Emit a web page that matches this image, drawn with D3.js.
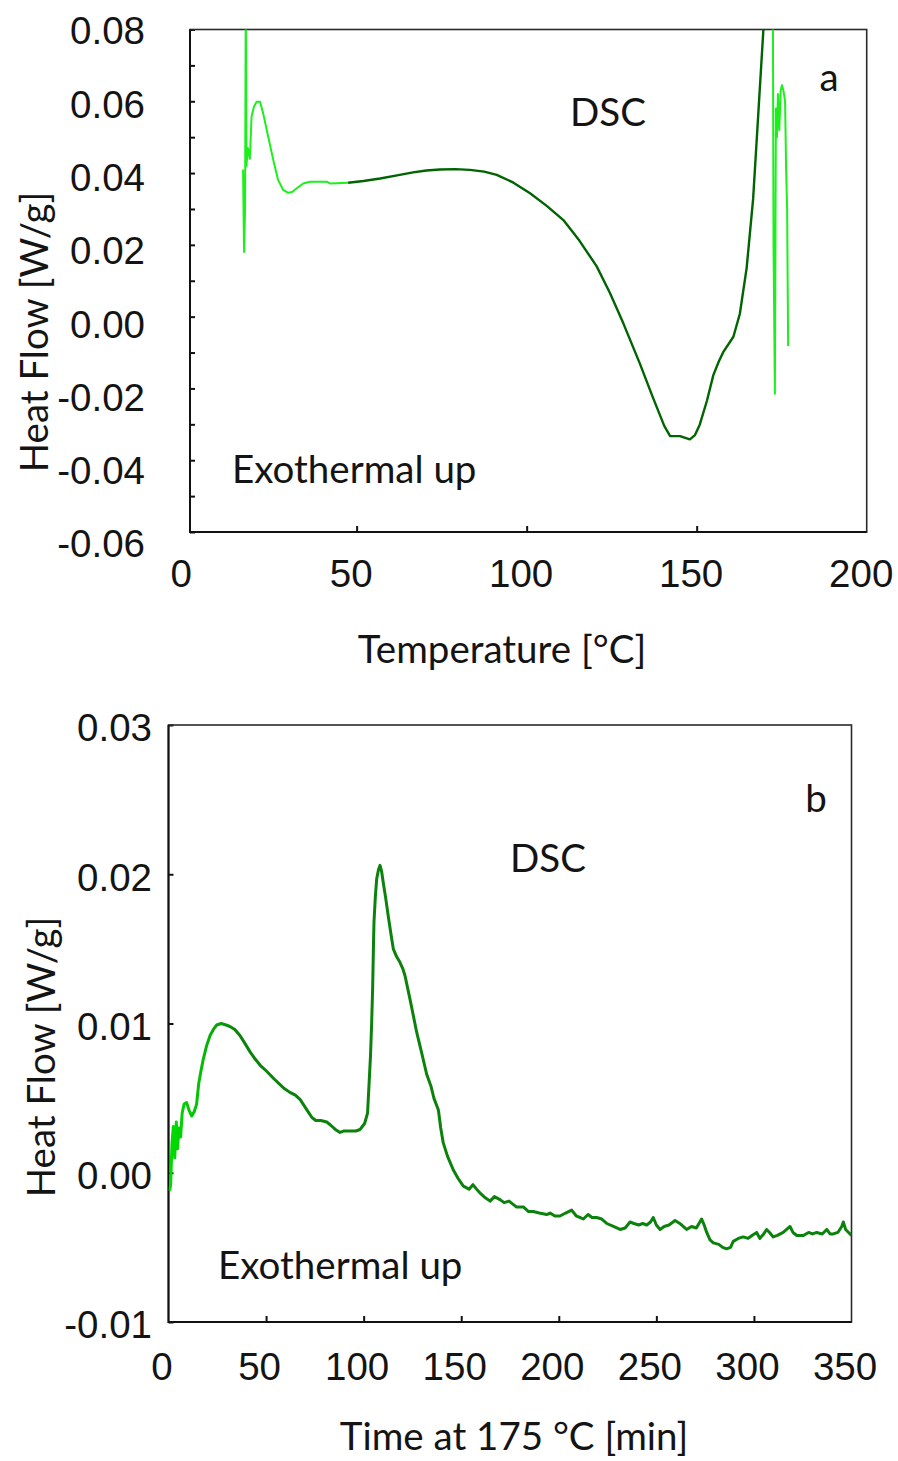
<!DOCTYPE html>
<html>
<head>
<meta charset="UTF-8" />
<title>DSC heat flow</title>
<script src="https://d3js.org/d3.v7.min.js"></script>
<style>
  body { margin: 0; background: #fff; }
  svg { display: block; font-family: Lato, "Open Sans", sans-serif; }
  .tick-label { font-size: 38.5px; fill: #141414; }
  .title { font-size: 38.5px; fill: #141414; }
</style>
</head>
<body>
<svg id="chart"></svg>
<script>
  // ---- panel a : DSC scan, heat flow vs temperature ----
  // start of the run (light green)
  const tempA1 = [16.6, 16.9, 17.2, 17.4, 17.6, 18.0, 18.6, 19.1, 19.8, 20.6, 21.6, 22.5, 24.0, 25.5, 26.9,
                  28.4, 29.9, 31.0, 32.3, 34.3, 36.3, 41.2, 42.1, 47.5];
  const flowA1 = [0.041, 0.018, 0.030, 0.090, 0.042, 0.047, 0.044, 0.0557, 0.0585, 0.0599, 0.0599, 0.0567, 0.0501, 0.0436, 0.0381,
                  0.0353, 0.0345, 0.0347, 0.0357, 0.0371, 0.0376, 0.0376, 0.0371, 0.0373];
  // main scan (dark green)
  const tempA2 = [47.5, 52, 56.9, 61.5, 66.6, 70.5, 74.5, 79, 83.3, 87.5, 91.2, 96, 101, 106, 110.8, 115.5,
                  120.6, 124.5, 128.4, 133.3, 137.2, 140.5, 142.2, 145.1, 148, 149.5, 150.9, 153, 154.9, 156.5,
                  157.8, 160.8, 162.7, 164.7, 166.6, 168.1, 169.6, 170.5];
  const flowA2 = [0.0373, 0.0378, 0.0385, 0.0393, 0.0402, 0.0407, 0.0410, 0.0411, 0.0409, 0.0404, 0.0395, 0.0374, 0.0344, 0.0308, 0.0269, 0.0212,
                  0.0140, 0.0066, -0.0018, -0.0131, -0.0227, -0.0305, -0.0333, -0.0333, -0.0342, -0.0330, -0.0301, -0.0235, -0.0163, -0.0125,
                  -0.0099, -0.0056, 0.0008, 0.0136, 0.0328, 0.0562, 0.0797, 0.095];
  // end of the run (light green)
  const tempA3 = [172.4, 172.6, 173.0, 173.3, 173.6, 173.9, 174.3, 174.7, 175.1, 175.6, 176.0, 176.3, 176.6, 176.9];
  const flowA3 = [0.090, 0.020, -0.0215, 0.058, 0.050, 0.062, 0.052, 0.063, 0.0645, 0.0625, 0.060, 0.041, 0.030, -0.0082];

  const xTicksA = [0, 50, 100, 150, 200];
  const xMarksA = [50, 100, 150];
  const yTicksA = [0.08, 0.06, 0.04, 0.02, 0.00, -0.02, -0.04, -0.06];
  const yMinorA = [0.08, 0.07, 0.06, 0.05, 0.04, 0.03, 0.02, 0.01, 0.00, -0.01, -0.02, -0.03, -0.04, -0.05, -0.06];

  // ---- panel b : isothermal hold at 175 °C ----
  const timeB = [0.6, 1.1, 1.8, 2.5, 3.2, 4.0, 4.6, 5.4, 6.2, 7.0, 8.0, 9.3, 10.5, 11.9, 13.2, 14.4, 15.5, 16.6, 17.8, 19.5,
                 21.3, 23, 24.7, 27, 29.5, 31.5, 34, 36.6, 39, 41.8, 44.5, 47, 50.3, 54, 58.8, 62, 65, 67.5, 69.5, 71.5,
                 73.5, 75.5, 78, 81.1, 83, 85.5, 87.9, 90, 93, 96, 98.2, 100.5, 102.0, 102.8, 103.5, 104.1, 104.6, 105.0, 105.3, 106.0,
                 106.7, 107.6, 108.4, 109.2, 110.1, 111.3, 112.6, 114, 115.2, 116.8, 118.6, 120, 121.2, 122.5, 123.8, 125.5, 127.2, 129.8, 132.3, 134.5,
                 136, 138.3, 139.5, 140.8, 143, 145.9, 148.5, 151.1, 154, 156, 157.9, 160, 162.5, 164.8, 167, 169.9, 172, 174.5, 178.4, 182,
                 184.5, 186.9, 190, 193.8, 195.5, 198, 200.6, 203.5, 206.6, 209, 211, 212.6, 215, 217, 219.4, 222, 224.6, 228, 231.4, 234,
                 236.5, 238.5, 241, 243, 245.1, 247, 248.4, 250, 251.9, 254, 256.5, 259.6, 262, 265.5, 268, 270.5, 273.2, 274.5, 275.8, 277.5,
                 279.2, 282, 284, 286, 288, 289.4, 292, 294.5, 297, 299, 301.4, 303, 305, 306.5, 308, 309.9, 312, 315, 318.5, 320,
                 322, 325.3, 328, 330, 332.2, 335, 337.3, 339, 340.7, 343, 345.0, 345.8, 347, 348.5, 350];
  const flowB = [-0.0012, -0.0008, 0.0020, 0.0031, 0.0010, 0.0034, 0.0016, 0.0030, 0.0024, 0.0040, 0.0046, 0.0047, 0.0042, 0.0038, 0.0041, 0.0046, 0.0060, 0.0068, 0.0076, 0.0085,
                 0.0092, 0.0096, 0.0099, 0.0100, 0.0099, 0.0098, 0.0096, 0.0092, 0.0087, 0.0081, 0.0076, 0.0072, 0.0068, 0.0063, 0.0057, 0.0054, 0.0052, 0.0049, 0.0045, 0.0041,
                 0.0037, 0.0035, 0.0035, 0.0034, 0.0032, 0.0029, 0.0027, 0.0028, 0.0028, 0.0028, 0.0029, 0.0033, 0.0040, 0.0060, 0.0078, 0.0100, 0.0123, 0.0150, 0.0168, 0.0185,
                 0.0197, 0.0203, 0.0206, 0.0202, 0.0194, 0.0184, 0.0172, 0.0160, 0.0150, 0.0145, 0.0141, 0.0137, 0.0132, 0.0124, 0.0116, 0.0105, 0.0094, 0.0080, 0.0066, 0.0058,
                 0.0050, 0.0042, 0.0030, 0.0020, 0.0011, 0.0002, -0.0004, -0.0009, -0.0011, -0.0008, -0.0011, -0.0014, -0.0017, -0.0019, -0.0016, -0.0018, -0.0020, -0.0019, -0.0023, -0.0023,
                 -0.0026, -0.0026, -0.0027, -0.0028, -0.0027, -0.0029, -0.0029, -0.0027, -0.0025, -0.0029, -0.0030, -0.0031, -0.0028, -0.0030, -0.0030, -0.0031, -0.0034, -0.0036, -0.0038, -0.0037,
                 -0.0033, -0.0034, -0.0035, -0.0034, -0.0035, -0.0033, -0.0030, -0.0035, -0.0038, -0.0036, -0.0035, -0.0032, -0.0034, -0.0038, -0.0036, -0.0037, -0.0031, -0.0035, -0.0040, -0.0045,
                 -0.0047, -0.0048, -0.0050, -0.0051, -0.0050, -0.0046, -0.0044, -0.0043, -0.0044, -0.0042, -0.0040, -0.0044, -0.0041, -0.0038, -0.0040, -0.0043, -0.0042, -0.0040, -0.0036, -0.0040,
                 -0.0042, -0.0042, -0.0040, -0.0041, -0.0040, -0.0041, -0.0038, -0.0041, -0.0041, -0.0040, -0.0036, -0.0033, -0.0038, -0.0040, -0.0042];

  const xTicksB = [0, 50, 100, 150, 200, 250, 300, 350];
  const xMarksB = [50, 100, 150, 200, 250, 300];
  const yTicksB = [0.03, 0.02, 0.01, 0.00, -0.01];

  const width = 898, height = 1461;
  const svg = d3.select("#chart").attr("width", width).attr("height", height);
  svg.append("rect").attr("width", width).attr("height", height).attr("fill", "#fff");
  const defs = svg.append("defs");

  const lightGreen = "#1bf01b", darkGreen = "#006400", midGreen = "#0b820b";

  function drawPanel(p) {
    const g = svg.append("g");

    const x = d3.scaleLinear().domain(p.xDomain).range([p.left, p.right]);
    const y = d3.scaleLinear().domain(p.yDomain).range([p.bottom, p.top]);
    // tick labels sit a little off the tick marks in the original
    const xLab = d3.scaleLinear().domain(p.xDomain).range([p.left + p.xLabShift, p.right + p.xLabShift]);
    const yLab = d3.scaleLinear().domain(p.yDomain).range(p.yLabRange);

    defs.append("clipPath").attr("id", "clip-" + p.id)
      .append("rect")
      .attr("x", p.left).attr("y", p.top)
      .attr("width", p.right - p.left).attr("height", p.bottom - p.top);

    // inward ticks
    g.append("g")
      .attr("transform", `translate(${p.left},0)`)
      .call(d3.axisRight(y).tickValues(p.yMinor).tickSize(5).tickFormat(""))
      .call(s => s.select(".domain").remove())
      .call(s => s.selectAll("line").attr("stroke", "#111").attr("stroke-width", 2));
    g.append("g")
      .attr("transform", `translate(0,${p.bottom})`)
      .call(d3.axisTop(x).tickValues(p.xMarks).tickSize(6).tickFormat(""))
      .call(s => s.select(".domain").remove())
      .call(s => s.selectAll("line").attr("stroke", "#111").attr("stroke-width", 2));

    // frame
    g.append("rect")
      .attr("x", p.left).attr("y", p.top)
      .attr("width", p.right - p.left).attr("height", p.bottom - p.top)
      .attr("fill", "none").attr("stroke", "#2a2a2a").attr("stroke-width", 1.6);
    g.append("path")
      .attr("d", `M${p.left},${p.top}V${p.bottom}H${p.right}`)
      .attr("fill", "none").attr("stroke", "#111").attr("stroke-width", 2);

    // tick labels
    g.append("g")
      .attr("transform", `translate(${p.yLabRight},0)`)
      .call(d3.axisLeft(yLab).tickValues(p.yTicks).tickSize(0).tickPadding(0).tickFormat(d => d.toFixed(2)))
      .call(s => s.select(".domain").remove())
      .call(s => s.selectAll("text").attr("class", "tick-label").attr("fill", null)
        .attr("font-family", null).attr("font-size", null).attr("dy", "0.36em"));
    g.append("g")
      .attr("transform", `translate(0,${p.xLabY})`)
      .call(d3.axisBottom(xLab).tickValues(p.xTicks).tickSize(0).tickPadding(0))
      .call(s => s.select(".domain").remove())
      .call(s => s.selectAll("text").attr("class", "tick-label").attr("fill", null)
        .attr("font-family", null).attr("font-size", null).attr("y", 0).attr("dy", "0.36em"));

    // curves
    const line = d3.line().x(d => x(d[0])).y(d => y(d[1]));
    const curves = g.append("g").attr("clip-path", `url(#clip-${p.id})`);
    p.series.forEach(s => {
      curves.append("path")
        .datum(d3.zip(s.x, s.y))
        .attr("d", line)
        .attr("fill", "none")
        .attr("stroke", s.color)
        .attr("stroke-width", s.width)
        .attr("stroke-linejoin", "round");
    });

    // texts
    g.append("text").attr("class", "title")
      .attr("text-anchor", "middle")
      .attr("x", p.xTitle[0]).attr("y", p.xTitle[1]).attr("dy", "0.36em")
      .text(p.xLabel);
    g.append("text").attr("class", "title")
      .attr("text-anchor", "middle")
      .attr("transform", `translate(${p.yTitle[0]},${p.yTitle[1]}) rotate(-90)`)
      .attr("dy", "0.36em")
      .text("Heat Flow [W/g]");
    g.append("text").attr("class", "title")
      .attr("text-anchor", "middle")
      .attr("x", p.dsc[0]).attr("y", p.dsc[1]).attr("dy", "0.36em")
      .text("DSC");
    g.append("text").attr("class", "title")
      .attr("text-anchor", "middle")
      .attr("x", p.tag[0]).attr("y", p.tag[1]).attr("dy", "0.36em")
      .text(p.id);
    g.append("text").attr("class", "title")
      .attr("x", p.exo[0]).attr("y", p.exo[1]).attr("dy", "0.36em")
      .text("Exothermal up");

    return x;
  }

  drawPanel({
    id: "a",
    left: 190, right: 866.7, top: 29.5, bottom: 532,
    xDomain: [1, 200], yDomain: [-0.06, 0.08],
    xLabShift: -6, xLabY: 573,
    yLabRange: [543, 30], yLabRight: 145,
    xTicks: xTicksA, xMarks: xMarksA, yTicks: yTicksA, yMinor: yMinorA,
    xLabel: "Temperature [°C]", xTitle: [502, 649], yTitle: [34, 332],
    dsc: [608, 112], tag: [829, 77], exo: [232, 469],
    series: [
      { x: tempA1, y: flowA1, color: lightGreen, width: 2 },
      { x: tempA2, y: flowA2, color: darkGreen, width: 2.4 },
      { x: tempA3, y: flowA3, color: lightGreen, width: 2 }
    ]
  });

  // panel b line fades from bright green to mid green over the first minutes
  const gradB = defs.append("linearGradient").attr("id", "grad-b")
    .attr("gradientUnits", "userSpaceOnUse")
    .attr("x1", 168.5).attr("x2", 236).attr("y1", 0).attr("y2", 0);
  gradB.append("stop").attr("offset", "0%").attr("stop-color", "#00dd00");
  gradB.append("stop").attr("offset", "45%").attr("stop-color", "#06c006");
  gradB.append("stop").attr("offset", "100%").attr("stop-color", midGreen);

  drawPanel({
    id: "b",
    left: 168.5, right: 851.5, top: 725, bottom: 1322,
    xDomain: [0, 350], yDomain: [-0.01, 0.03],
    xLabShift: -7, xLabY: 1366,
    yLabRange: [1324, 727], yLabRight: 152,
    xTicks: xTicksB, xMarks: xMarksB, yTicks: yTicksB, yMinor: yTicksB,
    xLabel: "Time at 175 °C [min]", xTitle: [514, 1436], yTitle: [41, 1057],
    dsc: [548, 858], tag: [816, 798], exo: [218, 1265],
    series: [
      { x: timeB, y: flowB, color: "url(#grad-b)", width: 3 }
    ]
  });
</script>
</body>
</html>
